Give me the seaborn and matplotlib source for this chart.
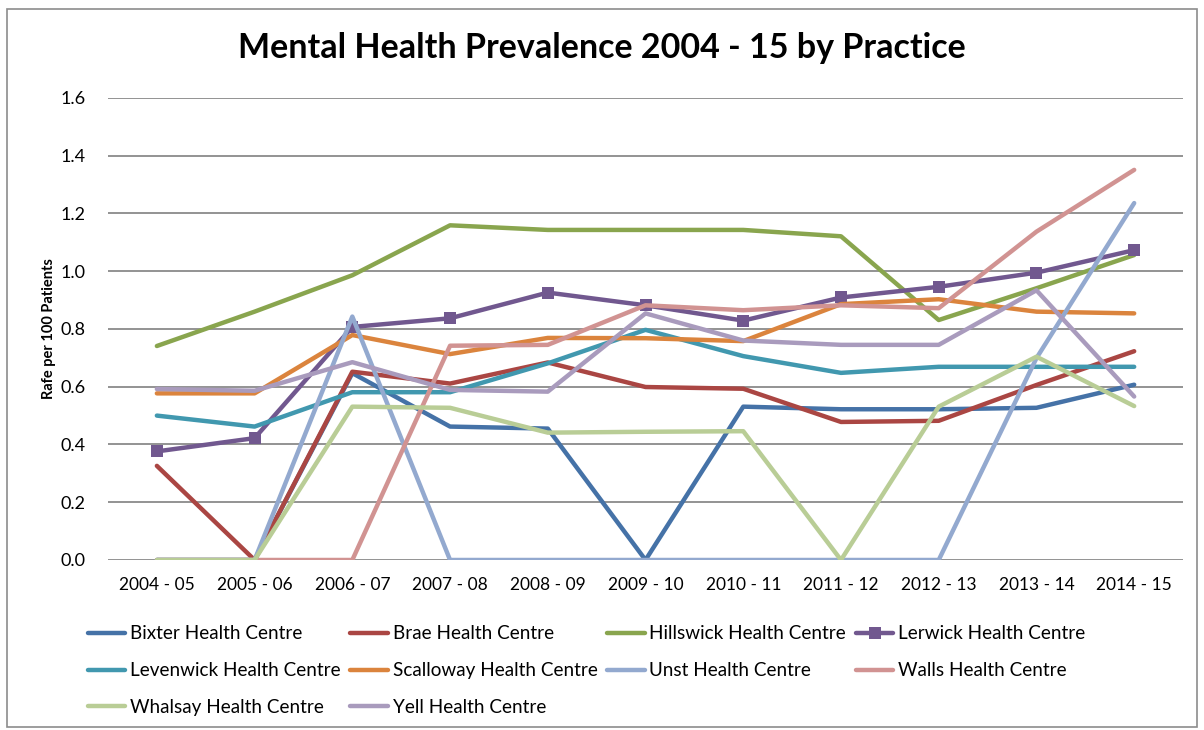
import numpy as np
import pandas as pd
import matplotlib
matplotlib.use("Agg")
import matplotlib.pyplot as plt
from matplotlib.patches import Rectangle
import seaborn as sns

years = ["2004 - 05", "2005 - 06", "2006 - 07", "2007 - 08", "2008 - 09", "2009 - 10",
         "2010 - 11", "2011 - 12", "2012 - 13", "2013 - 14", "2014 - 15"]

bixter = [0.0, 0.0, 0.647, 0.462, 0.455, 0.0, 0.531, 0.522, 0.522, 0.527, 0.607]
brae = [0.326, 0.0, 0.652, 0.611, 0.684, 0.599, 0.593, 0.478, 0.482, 0.606, 0.723]
hillswick = [0.741, 0.860, 0.986, 1.159, 1.143, 1.143, 1.143, 1.121, 0.831, 0.941, 1.056]
lerwick = [0.376, 0.422, 0.807, 0.837, 0.926, 0.882, 0.829, 0.909, 0.946, 0.995, 1.073]
levenwick = [0.500, 0.462, 0.581, 0.581, 0.681, 0.797, 0.706, 0.648, 0.669, 0.669, 0.669]
scalloway = [0.577, 0.577, 0.779, 0.713, 0.769, 0.768, 0.758, 0.886, 0.903, 0.860, 0.854]
unst = [0.0, 0.0, 0.843, 0.0, 0.0, 0.0, 0.0, 0.0, 0.0, 0.699, 1.236]
walls = [0.0, 0.0, 0.0, 0.742, 0.745, 0.882, 0.865, 0.882, 0.872, 1.137, 1.351]
whalsay = [0.0, 0.0, 0.531, 0.527, 0.441, 0.444, 0.446, 0.0, 0.531, 0.704, 0.533]
yell = [0.592, 0.586, 0.685, 0.589, 0.583, 0.854, 0.760, 0.745, 0.745, 0.934, 0.566]

practices = ["Bixter Health Centre", "Brae Health Centre", "Hillswick Health Centre",
             "Lerwick Health Centre", "Levenwick Health Centre", "Scalloway Health Centre",
             "Unst Health Centre", "Walls Health Centre", "Whalsay Health Centre",
             "Yell Health Centre"]
series = [bixter, brae, hillswick, lerwick, levenwick, scalloway, unst, walls, whalsay, yell]
colors = ["#4572A7", "#AA4643", "#89A54E", "#71588F", "#4198AF",
          "#DB843D", "#93A9CF", "#D19392", "#B9CD96", "#A99BBD"]

sns.set_theme(style="white")
plt.rcParams["font.family"] = ["Lato", "DejaVu Sans"]
plt.rcParams["text.color"] = "black"

fig = plt.figure(figsize=(12.04, 7.30), dpi=100)
ax = fig.add_axes([0.0897, 0.2329, 0.8929, 0.6329])

for name, vals, col in zip(practices, series, colors):
    df = pd.DataFrame({"year": years, "rate": vals})
    mk = "s" if name.startswith("Lerwick") else None
    sns.lineplot(data=df, x="year", y="rate", ax=ax, color=col, lw=3.2, label=name,
                 marker=mk, markersize=9, markeredgewidth=0, sort=False)

ax.set_xlim(-0.5, 10.5)
ax.set_ylim(0, 1.6)
ax.set_yticks(np.arange(0, 1.61, 0.2))
ax.set_yticklabels([f"{v:.1f}" for v in np.arange(0, 1.61, 0.2)])
ax.yaxis.grid(True, color="#8a8a8a", lw=1.3)
ax.set_axisbelow(True)
for s in ax.spines.values():
    s.set_visible(False)
ax.tick_params(axis="both", length=0, labelsize=12.5, colors="black")
ax.tick_params(axis="y", pad=16, labelsize=13)
ax.tick_params(axis="x", pad=12)
ax.set_xlabel("")
ax.set_ylabel("Rafe per 100 Patients", fontsize=10.5, fontweight="bold", color="black")
ax.yaxis.set_label_coords(-0.048, 0.5)

fig.text(0.5, 1 - 48 / 730, "Mental Health Prevalence 2004 - 15 by Practice",
         fontsize=24.5, fontweight="bold", ha="center", va="center", color="black")

# excel fills the legend row by row, matplotlib column by column
handles, labels = ax.get_legend_handles_labels()
order = [0, 4, 8, 1, 5, 9, 2, 6, 3, 7]
ax.legend([handles[i] for i in order], [labels[i] for i in order],
          loc="upper left", bbox_to_anchor=(-0.026, -0.125), ncol=4, frameon=False,
          fontsize=13.6, handlelength=2.0, handletextpad=0.25, columnspacing=0.5,
          labelspacing=1.05, borderaxespad=0)

fig.patches.append(Rectangle((0.006, 0.004), 0.988, 0.983, transform=fig.transFigure,
                             fill=False, ec="#8c8c8c", lw=1.2))

fig.savefig("out.png", dpi=100)
